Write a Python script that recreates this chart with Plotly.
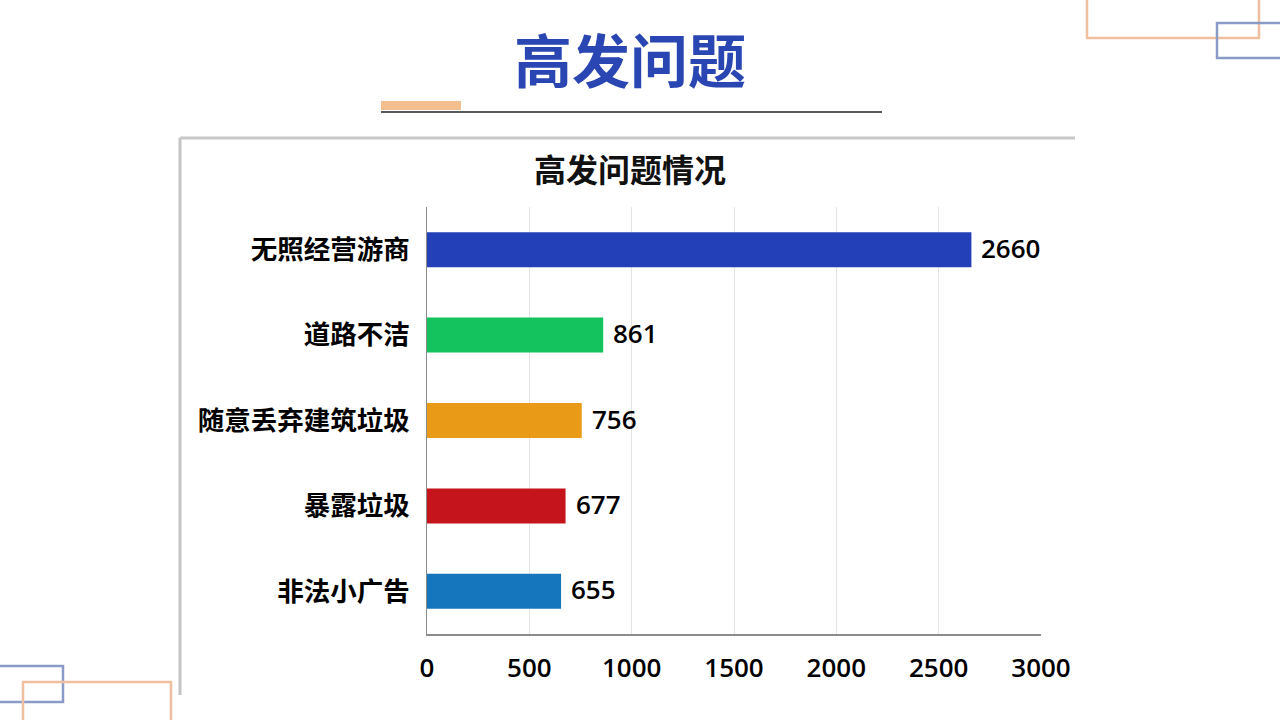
import plotly.graph_objects as go

# 高发问题情况 data
categories = ["无照经营游商", "道路不洁", "随意丢弃建筑垃圾", "暴露垃圾", "非法小广告"]
counts = [2660, 861, 756, 677, 655]
bar_colors = ["#2340b8", "#14c25e", "#e99a16", "#c6141c", "#1676bd"]
x_ticks = [0, 500, 1000, 1500, 2000, 2500, 3000]

W, H = 1280, 720
CJK = "Noto Sans CJK SC"
NUM = "Open Sans, Noto Sans CJK SC"


def px(x):
    return x / W


def py(y):
    return 1 - y / H


fig = go.Figure()
fig.add_trace(go.Bar(
    y=categories,
    x=counts,
    orientation="h",
    marker=dict(color=bar_colors, line=dict(width=0)),
    hoverinfo="skip",
))

shapes = []
# panel shadow edges (left and top)
shapes.append(dict(type="line", xref="paper", yref="paper",
                   x0=px(180), x1=px(180), y0=py(138), y1=py(695),
                   line=dict(color="#c4c4c4", width=3)))
shapes.append(dict(type="line", xref="paper", yref="paper",
                   x0=px(180), x1=px(1075), y0=py(138), y1=py(138),
                   line=dict(color="#c8c8c8", width=3)))
# header underline
shapes.append(dict(type="rect", xref="paper", yref="paper",
                   x0=px(381), x1=px(461), y0=py(110), y1=py(101),
                   fillcolor="#f3bf8f", line=dict(width=0)))
shapes.append(dict(type="line", xref="paper", yref="paper",
                   x0=px(381), x1=px(882), y0=py(112), y1=py(112),
                   line=dict(color="#222222", width=1.5)))
# corner frames
shapes.append(dict(type="rect", xref="paper", yref="paper",
                   x0=px(1087), x1=px(1259), y0=py(38), y1=py(-10),
                   line=dict(color="#efbfa0", width=2.5)))
shapes.append(dict(type="rect", xref="paper", yref="paper",
                   x0=px(1217), x1=px(1290), y0=py(58), y1=py(23),
                   line=dict(color="#8b9bc8", width=2.5)))
shapes.append(dict(type="rect", xref="paper", yref="paper",
                   x0=px(-10), x1=px(63), y0=py(702), y1=py(666),
                   line=dict(color="#8b9bc8", width=2.5)))
shapes.append(dict(type="rect", xref="paper", yref="paper",
                   x0=px(23), x1=px(171), y0=py(730), y1=py(682),
                   line=dict(color="#efbfa0", width=2.5)))

annotations = [
    dict(text="高发问题", xref="paper", yref="paper", x=px(630), y=py(58),
         showarrow=False, xanchor="center", yanchor="middle",
         font=dict(family=CJK, size=58, color="#2a46b2", weight="bold")),
    dict(text="高发问题情况", xref="paper", yref="paper", x=px(630), y=py(168),
         showarrow=False, xanchor="center", yanchor="middle",
         font=dict(family=CJK, size=32, color="#111111", weight="bold")),
]
# value labels next to each bar
for cat, val in zip(categories, counts):
    annotations.append(dict(
        text=str(val), x=val, y=cat, xref="x", yref="y",
        showarrow=False, xanchor="left", yanchor="middle", xshift=8, yshift=2,
        font=dict(family=NUM, size=26, color="#000000", weight=600),
    ))

fig.update_layout(
    template="none",
    width=W, height=H,
    margin=dict(l=0, r=0, t=0, b=0, pad=0, autoexpand=False),
    paper_bgcolor="#ffffff",
    plot_bgcolor="#ffffff",
    showlegend=False,
    bargap=0.59,
    shapes=shapes,
    annotations=annotations,
    xaxis=dict(
        domain=[px(427), px(1041)],
        range=[0, 3000],
        tickvals=x_ticks,
        ticktext=[str(t) for t in x_ticks],
        showgrid=True, gridcolor="#e4e4e4", gridwidth=1,
        zeroline=False, automargin=False,
        showline=True, linecolor="#8c8c8c", linewidth=1.5,
        ticks="", ticklabelstandoff=10,
        tickfont=dict(family=NUM, size=26, color="#000000", weight=600),
        fixedrange=True,
    ),
    yaxis=dict(
        domain=[py(634), py(207)],
        autorange="reversed",
        showgrid=False, zeroline=False, automargin=False,
        showline=True, linecolor="#8c8c8c", linewidth=1,
        ticks="", ticklabelstandoff=11,
        tickfont=dict(family=CJK, size=26.5, color="#000000", weight=600),
        fixedrange=True,
    ),
)

fig.write_html(
    "out.html",
    config={"responsive": False, "displayModeBar": False},
    post_script="document.body.style.margin='0';document.body.style.overflow='hidden';",
)
